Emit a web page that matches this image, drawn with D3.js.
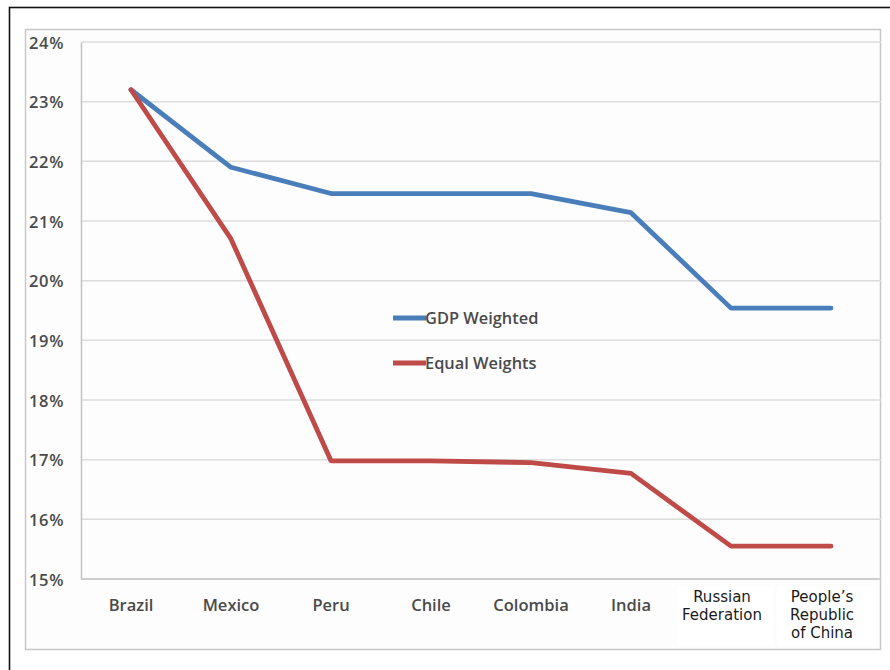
<!DOCTYPE html>
<html>
<head>
<meta charset="utf-8">
<script src="https://cdn.jsdelivr.net/npm/d3@7"></script>
<style>
  html, body { margin: 0; padding: 0; background: #ffffff; }
  svg { display: block; }
</style>
</head>
<body>
<svg id="chart" width="890" height="670"></svg>
<script>
// Countries along the x axis (multi-line labels split with "|")
const categories = ["Brazil", "Mexico", "Peru", "Chile", "Colombia", "India",
  "Russian|Federation", "People\u2019s|Republic|of China"];
// Share values, in percent
const gdpWeighted = [23.2, 21.9, 21.46, 21.46, 21.46, 21.14, 19.54, 19.54];
const equalWeights = [23.2, 20.7, 16.98, 16.98, 16.95, 16.77, 15.55, 15.55];
const yTicks = [15, 16, 17, 18, 19, 20, 21, 22, 23, 24];
const seriesNames = ["GDP Weighted", "Equal Weights"];
const seriesColors = ["#4a7ebb", "#be4b48"];

const labelFont = "'Open Sans', Lato, sans-serif";
const svg = d3.select("#chart");

// outer frame
svg.append("rect").attr("x", 9.5).attr("y", 7.5).attr("width", 900).attr("height", 700)
  .attr("fill", "#ffffff").attr("stroke", "#111").attr("stroke-width", 1.6);

// chart panel
svg.append("rect").attr("x", 25.5).attr("y", 29.5).attr("width", 855).attr("height", 620)
  .attr("fill", "#fdfdfd").attr("stroke", "#c8c8c8").attr("stroke-width", 1.5);

const x = d3.scaleBand().domain(categories).range([81, 881]);
const y = d3.scaleLinear().domain([15, 24]).range([579, 42]);

// horizontal gridlines
svg.append("g").selectAll("line").data(yTicks).join("line")
  .attr("x1", 81).attr("x2", 881)
  .attr("y1", d => y(d)).attr("y2", d => y(d))
  .attr("stroke", "#dcdcdc").attr("stroke-width", 1.5);

// y axis
const yAxis = svg.append("g").attr("transform", "translate(81,0)")
  .call(d3.axisLeft(y).tickValues(yTicks).tickSize(0).tickFormat(d => d + "%"));
yAxis.select(".domain").attr("stroke", "#c4c4c4").attr("stroke-width", 1.5);
yAxis.selectAll("text")
  .attr("x", -17).attr("dy", "0.38em")
  .style("font-family", labelFont).style("font-weight", 600)
  .style("font-size", "16.5px").style("letter-spacing", "0.6px").style("fill", "#4a4a4a");

// x axis line
svg.append("line").attr("x1", 81).attr("x2", 881).attr("y1", y(15)).attr("y2", y(15))
  .attr("stroke", "#c4c4c4").attr("stroke-width", 1.5);

// category labels
const xl = svg.append("g").selectAll("g").data(categories).join("g")
  .attr("transform", d => `translate(${x(d) + x.bandwidth() / 2},0)`);
xl.each(function (d) {
  const g = d3.select(this);
  const lines = d.split("|");
  if (lines.length === 1) {
    g.append("text").attr("y", 611).attr("text-anchor", "middle")
      .style("font-family", labelFont).style("font-weight", 600)
      .style("font-size", "16.5px").style("fill", "#4a4a4a").text(d);
  } else {
    g.append("rect").attr("x", -54).attr("y", 586).attr("width", 96).attr("height", 60)
      .attr("fill", "#ffffff");
    const t = g.append("text").attr("text-anchor", "middle")
      .style("font-family", "'DejaVu Sans', Verdana, sans-serif")
      .style("font-size", "15px").style("fill", "#1a1a1a");
    lines.forEach((s, i) => {
      t.append("tspan").attr("x", -9).attr("y", 602 + i * 18).text(s);
    });
  }
});

// series lines
const line = d3.line()
  .x((d, i) => x(categories[i]) + x.bandwidth() / 2)
  .y(d => y(d));

[gdpWeighted, equalWeights].forEach((vals, k) => {
  svg.append("path").datum(vals)
    .attr("d", line)
    .attr("fill", "none")
    .attr("stroke", seriesColors[k])
    .attr("stroke-width", 4.8)
    .attr("stroke-linejoin", "round")
    .attr("stroke-linecap", "round");
});

// legend
const legend = svg.append("g").attr("transform", "translate(393,318)");
seriesNames.forEach((name, k) => {
  const row = legend.append("g").attr("transform", `translate(0,${k * 45})`);
  row.append("line").attr("x1", 0).attr("x2", 33).attr("y1", 0).attr("y2", 0)
    .attr("stroke", seriesColors[k]).attr("stroke-width", 4.8);
  row.append("text").attr("x", 32).attr("y", 0).attr("dy", "0.36em")
    .style("font-family", labelFont).style("font-weight", 600)
    .style("font-size", "16.4px").style("fill", "#4a4a4a").text(name);
});
</script>
</body>
</html>
